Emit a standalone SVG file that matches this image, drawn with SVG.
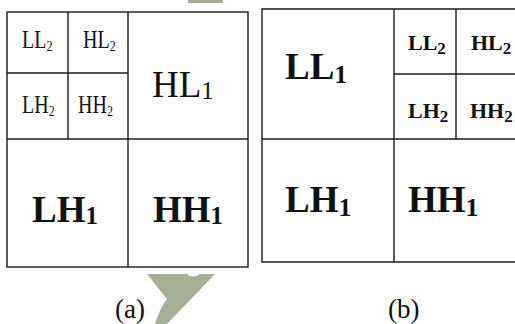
<svg xmlns="http://www.w3.org/2000/svg" width="515" height="324" viewBox="0 0 515 324">
<style>
.ln{stroke:#1a1a1a;stroke-width:1.4;fill:none}
.t{font-family:"Liberation Serif","Times New Roman",serif;fill:#111}
.b{font-weight:bold}
.s{font-size:20px}
.r{font-size:22px}
.L{font-size:37px}
.g{fill:#a4af93}
</style>
<rect width="515" height="324" fill="#fff"/>
<rect class="g" x="188" y="0" width="35" height="3"/>
<path class="g" d="M147,274 L187,274 Q193,279 200,274 L215,274 L167,324 L155,324 Q160,308 167,299 Z"/>
<g id="connectors"/>
<g id="grid-a">
<rect class="ln" x="7" y="12" width="241" height="255"/>
<line class="ln" x1="68" y1="12" x2="68" y2="139"/>
<line class="ln" x1="128" y1="12" x2="128" y2="267"/>
<line class="ln" x1="7" y1="73" x2="128" y2="73"/>
<line class="ln" x1="7" y1="139" x2="248" y2="139"/>
</g>
<g id="a-LL2"><text class="t s" transform="translate(22,48) scale(1,1.3)">LL<tspan font-size="12" dy="2">2</tspan></text></g>
<g id="a-HL2"><text class="t s" transform="translate(83,48) scale(1,1.3)">HL<tspan font-size="12" dy="2">2</tspan></text></g>
<g id="a-LH2"><text class="t s" transform="translate(22,113) scale(1,1.3)">LH<tspan font-size="12" dy="2">2</tspan></text></g>
<g id="a-HH2"><text class="t s" transform="translate(78,113) scale(1,1.3)">HH<tspan font-size="12" dy="2">2</tspan></text></g>
<g id="a-HL1"><text class="t L" x="152" y="97">HL<tspan font-size="25" dy="2">1</tspan></text></g>
<g id="a-LH1"><text class="t L b" x="32" y="222">LH<tspan font-size="25" dy="2">1</tspan></text></g>
<g id="a-HH1"><text class="t L b" x="153" y="222">HH<tspan font-size="25" dy="2">1</tspan></text></g>
<g id="grid-b">
<polyline class="ln" points="515,9 262,9 262,262 515,262"/>
<line class="ln" x1="394" y1="9" x2="394" y2="262"/>
<line class="ln" x1="456" y1="9" x2="456" y2="139"/>
<line class="ln" x1="394" y1="74" x2="515" y2="74"/>
<line class="ln" x1="262" y1="139" x2="515" y2="139"/>
</g>
<g id="b-LL1"><text class="t L b" x="285" y="79">LL<tspan font-size="26" dy="4">1</tspan></text></g>
<g id="b-LL2"><text class="t r b" x="408" y="50">LL<tspan font-size="17" dy="4">2</tspan></text></g>
<g id="b-HL2"><text class="t r b" x="471" y="50">HL<tspan font-size="17" dy="4">2</tspan></text></g>
<g id="b-LH2"><text class="t r b" x="408" y="118">LH<tspan font-size="17" dy="4">2</tspan></text></g>
<g id="b-HH2"><text class="t r b" x="470" y="118">HH<tspan font-size="17" dy="4">2</tspan></text></g>
<g id="b-LH1"><text class="t L b" x="285" y="212">LH<tspan font-size="26" dy="4">1</tspan></text></g>
<g id="b-HH1"><text class="t L b" x="408" y="212">HH<tspan font-size="26" dy="4">1</tspan></text></g>
<text class="t" x="115" y="318" font-size="27">(a)</text>
<text class="t" x="388" y="318" font-size="27">(b)</text>
</svg>
